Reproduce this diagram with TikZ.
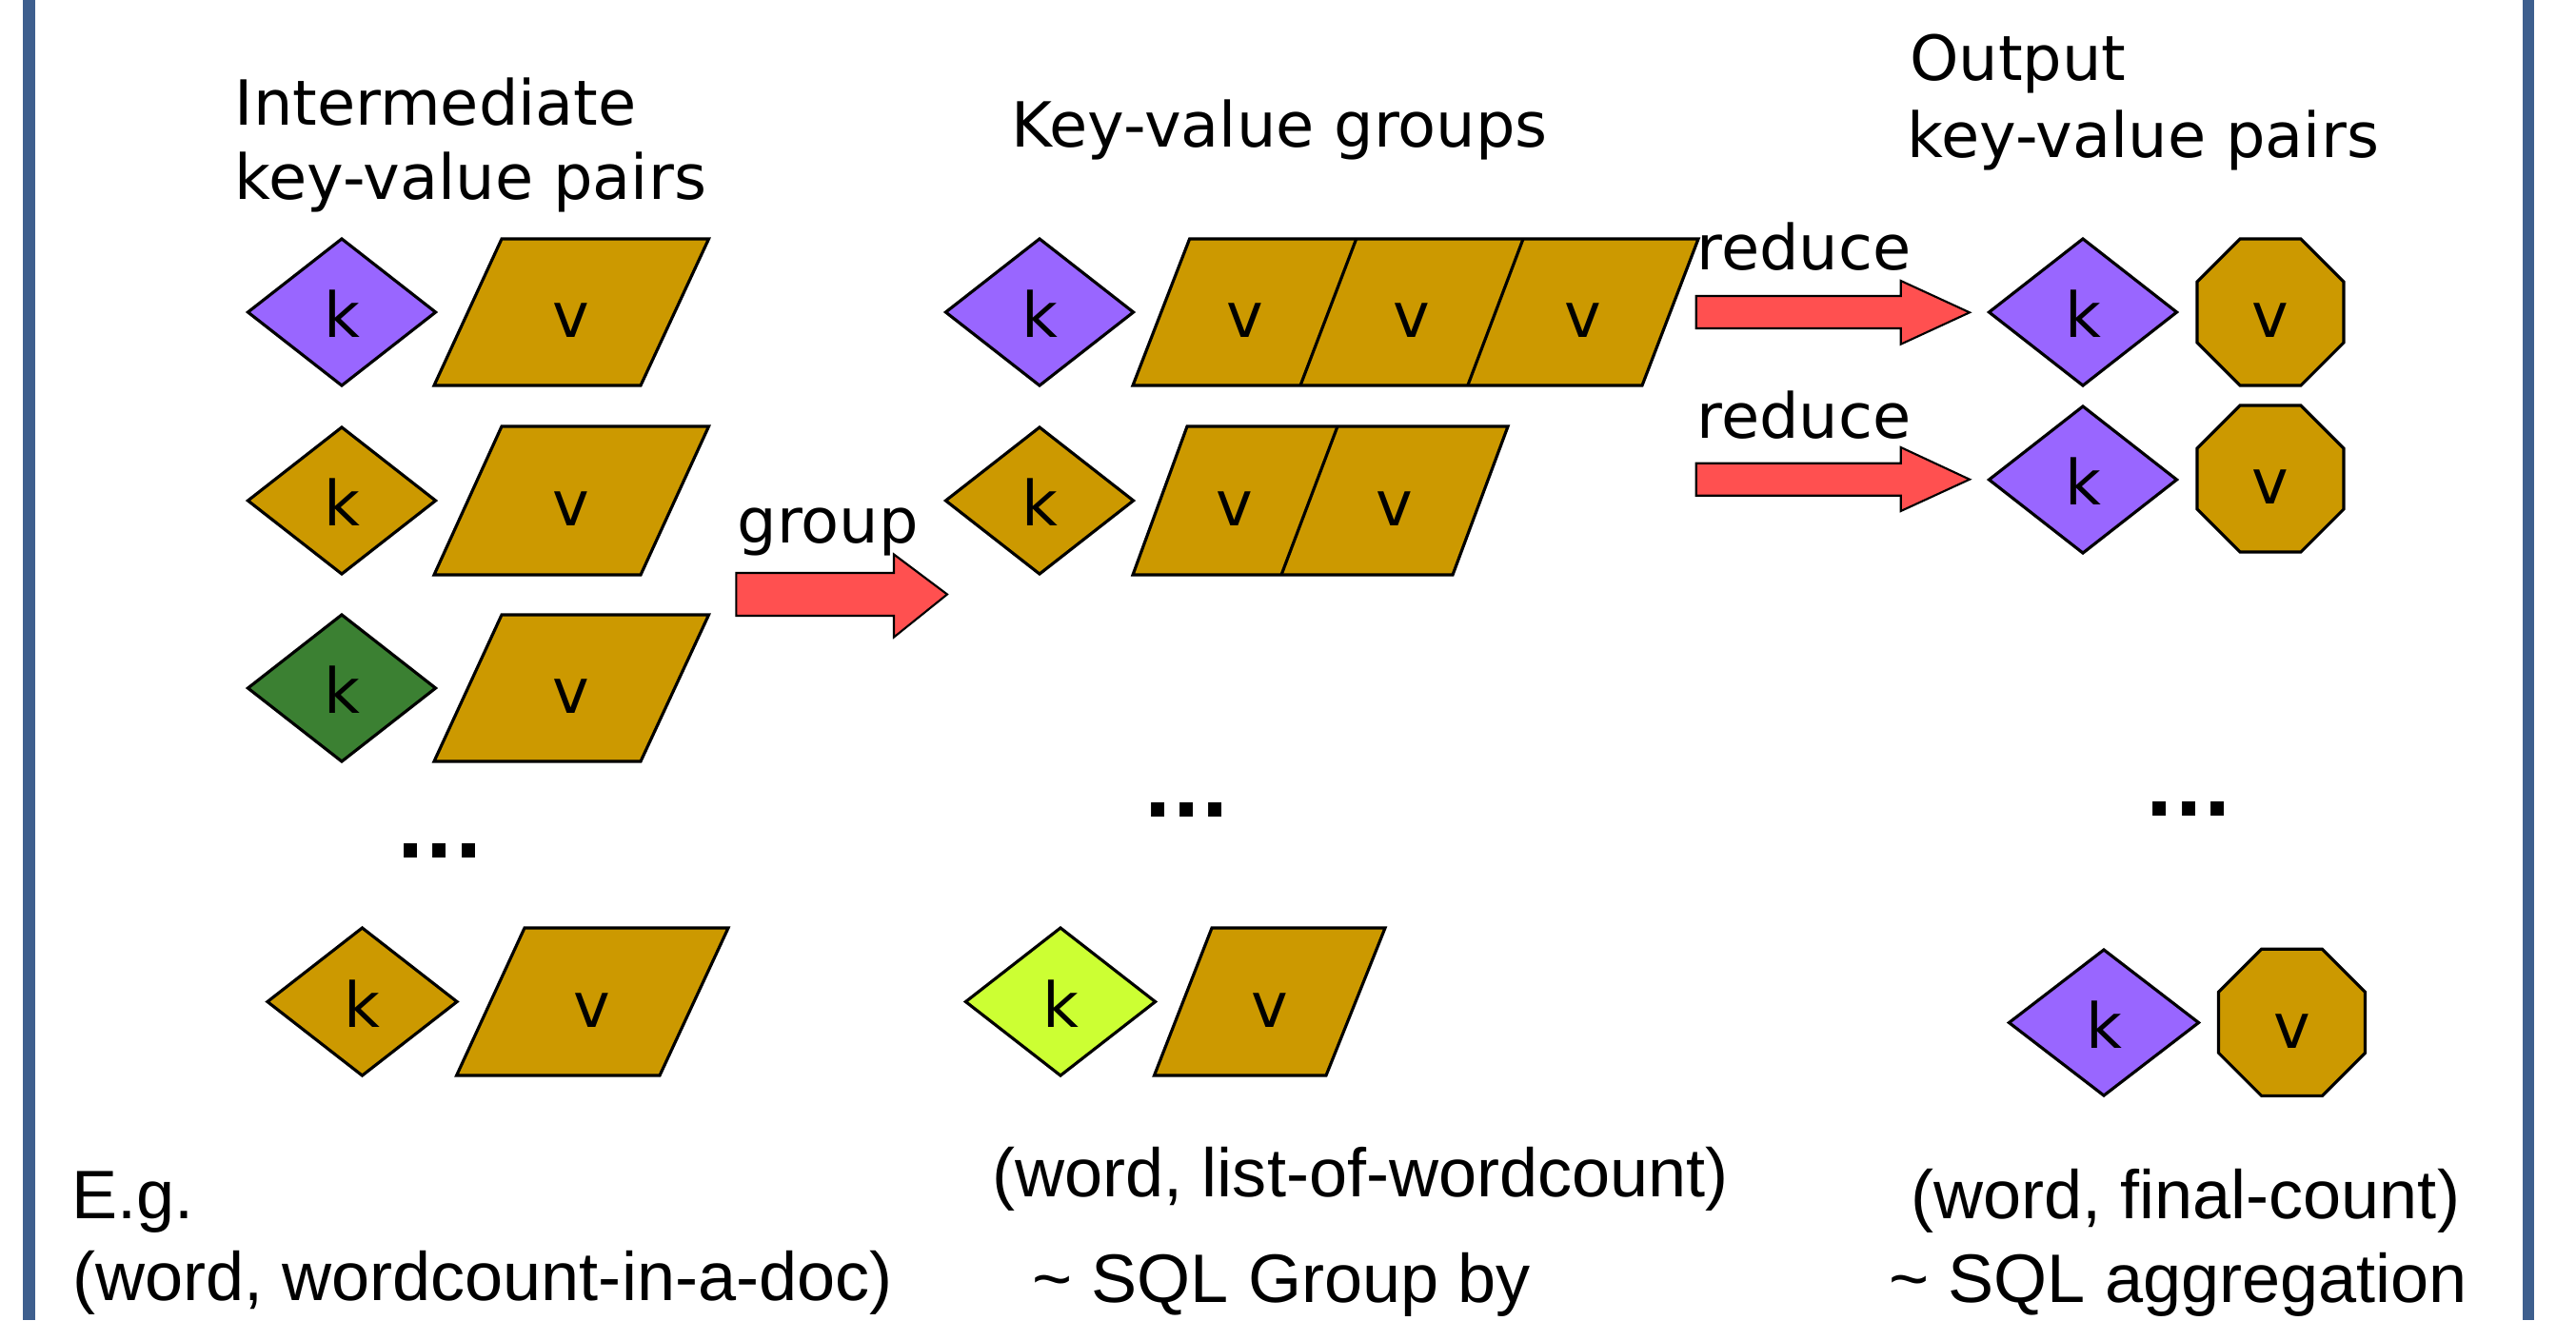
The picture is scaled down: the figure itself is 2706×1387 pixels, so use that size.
\documentclass[tikz,border=0pt]{standalone}
\usepackage{fontspec}
\setmainfont{DejaVu Sans}
\newfontfamily\lowfont{Liberation Sans}
\usetikzlibrary{shapes.geometric}
\definecolor{kpurple}{RGB}{153,102,255}
\definecolor{gold}{RGB}{204,153,0}
\definecolor{kgreen}{RGB}{59,128,50}
\definecolor{klime}{RGB}{204,255,51}
\definecolor{ared}{RGB}{255,80,80}
\definecolor{framecol}{RGB}{62,95,142}
\begin{document}
\begin{tikzpicture}[x=0.01cm,y=-0.01cm,
  lab/.style={font=\fontsize{18.6}{22}\selectfont, inner sep=0, anchor=base west},
  low/.style={font=\lowfont\fontsize{20.5}{24}\selectfont, inner sep=0, anchor=base west},
  glyph/.style={font=\fontsize{18.6}{22}\selectfont, text height=15.25pt, text depth=0pt, inner sep=0},
  keybox/.style={diamond, draw, line width=0.9pt, minimum width=1.97cm, minimum height=1.54cm, inner sep=0, outer sep=0, glyph},
  octbox/.style={regular polygon, regular polygon sides=8, draw, fill=gold, line width=0.9pt, minimum size=1.667cm, inner sep=0, outer sep=0, glyph},
  pg/.style={draw, fill=gold, line width=0.9pt, line join=miter},
  divline/.style={draw, line width=0.9pt},
  blockarrow/.style={draw, fill=ared, line width=0.6pt, line join=miter},
  dotstext/.style={font=\bfseries\fontsize{22.5}{26}\selectfont, inner sep=0, anchor=base}
]
\useasboundingbox (0,0) rectangle (2706,1387);
\fill[white] (0,0) rectangle (2706,1387);
% frame bars
\fill[framecol] (24,0) rectangle (37,1387);
\fill[framecol] (2649.5,0) rectangle (2661.5,1387);

% ---------- headings ----------
\node[lab] (h1a) at (246,131.7) {Intermediate};
\node[lab] (h1b) at (246,209) {key-value pairs};
\node[lab] (h2) at (1062,154) {Key-value groups};
\node[lab] (h3a) at (2005.5,84.8) {Output};
\node[lab] (h3b) at (2003,165) {key-value pairs};

% ---------- left column ----------
\node[keybox, fill=kpurple] (kA1) at (359,328) {k};
\path[pg] (456,405) -- (527,251) -- (744.5,251) -- (673,405) -- cycle;
\node[glyph] (vA1) at (600,328) {v};

\node[keybox, fill=gold] (kA2) at (359,526) {k};
\path[pg] (456,604) -- (527,448) -- (744.5,448) -- (673,604) -- cycle;
\node[glyph] (vA2) at (600,526) {v};

\node[keybox, fill=kgreen] (kA3) at (359,723) {k};
\path[pg] (456,800) -- (527,646) -- (744.5,646) -- (673,800) -- cycle;
\node[glyph] (vA3) at (600,723) {v};

\node[dotstext] (dA) at (462,901.6) {...};

\node[keybox, fill=gold, minimum width=1.99cm, minimum height=1.55cm] (kA4) at (380.5,1052.5) {k};
\path[pg] (479.6,1130) -- (551,975) -- (765,975) -- (693,1130) -- cycle;
\node[glyph] (vA4) at (622,1052.5) {v};

% ---------- group arrow ----------
\node[lab] (grp) at (774,570.7) {group};
\path[blockarrow] (773.3,602) -- (939,602) -- (939,582.5) -- (995,624.5) -- (939,669.5) -- (939,647) -- (773.3,647) -- cycle;

% ---------- middle column ----------
\node[keybox, fill=kpurple] (kB1) at (1092,328) {k};
\path[pg] (1190,405) -- (1249.6,251) -- (1784,251) -- (1725,405) -- cycle;
\path[divline] (1366,405) -- (1424.7,251);
\path[divline] (1541.8,405) -- (1600,251);
\node[glyph] (vB1a) at (1308,328) {v};
\node[glyph] (vB1b) at (1483,328) {v};
\node[glyph] (vB1c) at (1663,328) {v};

\node[keybox, fill=gold] (kB2) at (1092,526) {k};
\path[pg] (1190,604) -- (1247,448) -- (1584,448) -- (1526,604) -- cycle;
\path[divline] (1346,604) -- (1405,448);
\node[glyph] (vB2a) at (1297,526) {v};
\node[glyph] (vB2b) at (1465,526) {v};

\node[dotstext] (dB) at (1246.5,858) {...};

\node[keybox, fill=klime, minimum width=1.99cm, minimum height=1.55cm] (kB3) at (1114,1052.5) {k};
\path[pg] (1212.5,1130) -- (1273,975) -- (1455,975) -- (1393,1130) -- cycle;
\node[glyph] (vB3) at (1333.4,1052.5) {v};

% ---------- reduce arrows ----------
\node[lab] (red1) at (1782,283.5) {reduce};
\path[blockarrow] (1781.7,311) -- (1996.7,311) -- (1996.7,295) -- (2069,328.3) -- (1996.7,361.7) -- (1996.7,345) -- (1781.7,345) -- cycle;
\node[lab] (red2) at (1782,460) {reduce};
\path[blockarrow] (1781.7,486.7) -- (1996.7,486.7) -- (1996.7,470) -- (2069,503.7) -- (1996.7,537) -- (1996.7,520.7) -- (1781.7,520.7) -- cycle;

% ---------- right column ----------
\node[keybox, fill=kpurple] (kC1) at (2188,328) {k};
\node[octbox] (vC1) at (2385,328) {v};
\node[keybox, fill=kpurple] (kC2) at (2188,504) {k};
\node[octbox] (vC2) at (2385,503) {v};

\node[dotstext] (dC) at (2299,857) {...};

\node[keybox, fill=kpurple, minimum width=1.99cm, minimum height=1.53cm] (kC3) at (2210,1074.5) {k};
\node[octbox] (vC3) at (2407.5,1074.3) {v};

% ---------- bottom texts ----------
\node[low] (eg) at (74.5,1280.6) {E.g.};
\node[low] (ex1) at (75.5,1366) {(word, wordcount-in-a-doc)};
\node[low] (ex2) at (1042,1257.8) {(word, list-of-wordcount)};
\node[low] (sql1) at (1084,1368) {\textasciitilde{} SQL Group by};
\node[low] (ex3) at (2006.5,1280.6) {(word, final-count)};
\node[low] (sql2) at (1984,1368) {\textasciitilde{} SQL aggregation};
\end{tikzpicture}
\end{document}
